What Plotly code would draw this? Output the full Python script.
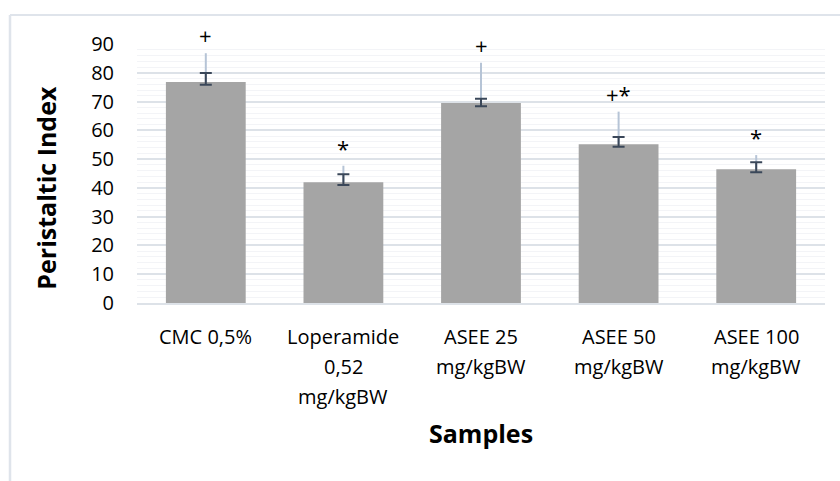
import plotly.graph_objects as go

# ---- data ----
categories = ["CMC 0,5%", "Loperamide<br>0,52<br>mg/kgBW", "ASEE 25<br>mg/kgBW",
              "ASEE 50<br>mg/kgBW", "ASEE 100<br>mg/kgBW"]
peristaltic_index = [76.8, 42.0, 69.5, 55.2, 46.5]
err_upper = [79.9, 44.7, 71.0, 57.7, 48.9]    # black error bar top
err_lower = [75.8, 41.0, 68.4, 54.3, 45.4]    # black error bar bottom
sd_upper = [86.8, 47.7, 83.5, 66.5, 51.4]     # light blue line top
significance = ["+", "*", "+", "+*", "*"]
y_ticks = [0, 10, 20, 30, 40, 50, 60, 70, 80, 90]

x_idx = list(range(len(categories)))
FONT = "Open Sans"
PLOT_L, PLOT_R, PLOT_T, PLOT_B = 137, 825, 44, 302.75
PW, PH = PLOT_R - PLOT_L, PLOT_B - PLOT_T

fig = go.Figure()

fig.add_trace(go.Bar(
    x=x_idx, y=peristaltic_index, width=0.58,
    marker=dict(color="#a5a5a5", line=dict(width=0)),
    hoverinfo="skip", showlegend=False,
))

# light blue upward line
fig.add_trace(go.Scatter(
    x=x_idx, y=peristaltic_index, mode="markers",
    marker=dict(size=1, color="rgba(0,0,0,0)"),
    error_y=dict(type="data", symmetric=False,
                 array=[u - v for u, v in zip(sd_upper, peristaltic_index)],
                 arrayminus=[0] * len(x_idx),
                 color="#b6c4d6", thickness=2, width=0),
    showlegend=False, hoverinfo="skip",
))

# dark error bars with caps
fig.add_trace(go.Scatter(
    x=x_idx, y=peristaltic_index, mode="markers",
    marker=dict(size=1, color="rgba(0,0,0,0)"),
    error_y=dict(type="data", symmetric=False,
                 array=[u - v for u, v in zip(err_upper, peristaltic_index)],
                 arrayminus=[v - l for v, l in zip(peristaltic_index, err_lower)],
                 color="#3a4759", thickness=2, width=6),
    showlegend=False, hoverinfo="skip",
))

annotations = []
for i, (s, top) in enumerate(zip(significance, sd_upper)):
    annotations.append(dict(
        x=i, y=top, xref="x", yref="y", text=s, showarrow=False,
        yanchor="bottom", xanchor="center", yshift=1,
        font=dict(family=FONT, size=22, color="#000000"),
    ))

# x tick labels (Excel-like line spacing)
for i, cat in enumerate(categories):
    for k, line in enumerate(cat.split("<br>")):
        annotations.append(dict(
            x=i, y=0, xref="x", yref="paper", text=line, showarrow=False,
            xanchor="center", yanchor="middle", yshift=-(33 + 30 * k),
            font=dict(family=FONT, size=20, color="#000000"),
        ))

# y-axis title
annotations.append(dict(
    x=(46 - PLOT_L) / PW, y=(PLOT_B - 187.5) / PH, xref="paper", yref="paper",
    text="<b>Peristaltic Index</b>", textangle=-90, showarrow=False,
    xanchor="center", yanchor="middle",
    font=dict(family=FONT, size=25, color="#000000"),
))
# x-axis title
annotations.append(dict(
    x=0.5, y=(PLOT_B - 433) / PH, xref="paper", yref="paper",
    text="<b>Samples</b>", showarrow=False,
    xanchor="center", yanchor="middle",
    font=dict(family=FONT, size=25, color="#000000"),
))

border_col = "#dfe4eb"
shapes = [
    dict(type="line", xref="paper", yref="paper",
         x0=(10 - PLOT_L) / PW, x1=1.1, y0=(PLOT_B - 15) / PH, y1=(PLOT_B - 15) / PH,
         line=dict(color=border_col, width=2)),
    dict(type="line", xref="paper", yref="paper",
         x0=(10 - PLOT_L) / PW, x1=(10 - PLOT_L) / PW, y0=(PLOT_B - 15) / PH, y1=-0.8,
         line=dict(color=border_col, width=2.5)),
]

fig.update_layout(
    width=840, height=481,
    margin=dict(l=PLOT_L, r=840 - PLOT_R, t=PLOT_T, b=481 - PLOT_B, autoexpand=False),
    paper_bgcolor="white", plot_bgcolor="white",
    font=dict(family=FONT, size=20, color="#000000"),
    annotations=annotations, shapes=shapes,
    xaxis=dict(
        tickmode="array", tickvals=x_idx, showticklabels=False,
        range=[-0.5, 4.5], showgrid=False, zeroline=False,
        showline=True, linecolor="#dde2e8", linewidth=1.5, ticks="",
    ),
    yaxis=dict(
        range=[0, 90], tickmode="array", tickvals=y_ticks,
        showgrid=True, gridcolor="#dde2e8", gridwidth=1.5,
        minor=dict(dtick=2, showgrid=True, gridcolor="#f3f4f7", gridwidth=1),
        zeroline=False, showline=False, ticks="",
        tickfont=dict(family=FONT, size=20, color="#000000"),
        ticklabelstandoff=22,
    ),
)

fig.write_html("out.html", config={"displayModeBar": False},
               post_script="document.body.style.margin='0';")
